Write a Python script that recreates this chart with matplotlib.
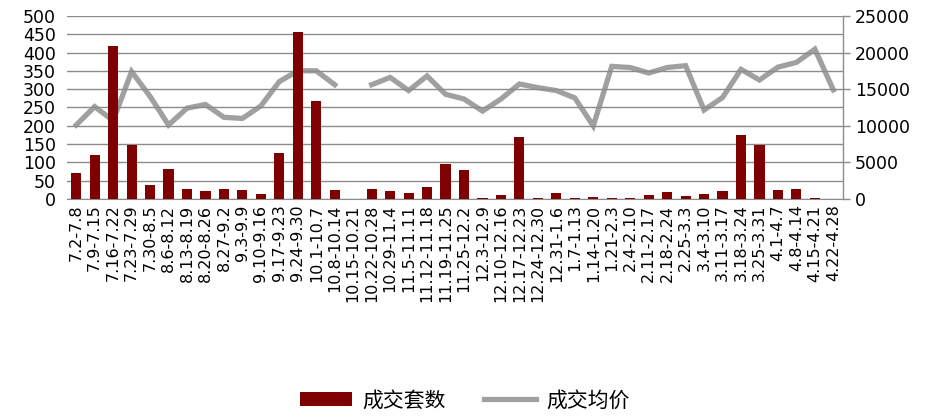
import matplotlib
matplotlib.use("Agg")
import matplotlib.pyplot as plt
import numpy as np

plt.rcParams['font.family'] = ['DejaVu Sans', 'Noto Sans CJK SC']

weeks = ["7.2-7.8", "7.9-7.15", "7.16-7.22", "7.23-7.29", "7.30-8.5", "8.6-8.12",
         "8.13-8.19", "8.20-8.26", "8.27-9.2", "9.3-9.9", "9.10-9.16", "9.17-9.23",
         "9.24-9.30", "10.1-10.7", "10.8-10.14", "10.15-10.21", "10.22-10.28",
         "10.29-11.4", "11.5-11.11", "11.12-11.18", "11.19-11.25", "11.25-12.2",
         "12.3-12.9", "12.10-12.16", "12.17-12.23", "12.24-12.30", "12.31-1.6",
         "1.7-1.13", "1.14-1.20", "1.21-2.3", "2.4-2.10", "2.11-2.17", "2.18-2.24",
         "2.25-3.3", "3.4-3.10", "3.11-3.17", "3.18-3.24", "3.25-3.31", "4.1-4.7",
         "4.8-4.14", "4.15-4.21", "4.22-4.28"]

units_sold = [70, 121, 417, 148, 37, 82, 27, 23, 27, 25, 14, 126,
              455, 267, 25, 0, 28, 23, 15, 32, 95, 78,
              4, 11, 169, 3, 15, 4, 6, 3, 3, 11, 18,
              9, 14, 21, 174, 148, 25, 28, 4, 0]

avg_price = [10100, 12600, 10700, 17400, 14000, 10100, 12400, 12900, 11150, 11000, 12700, 16030,
             17500, 17500, 15600, np.nan, 15600, 16600, 14800, 16800, 14300, 13650,
             12000, 13650, 15700, 15200, 14800, 13800, 9970, 18100, 17950, 17200, 17950,
             18200, 12150, 13850, 17700, 16250, 18000, 18650, 20450, 14900]

bar_color = "#7F0000"
line_color = "#A0A0A0"
grid_color = "#8C8C8C"

fig = plt.figure(figsize=(9.3, 4.18), dpi=100)
ax = fig.add_axes([0.072, 0.524, 0.834, 0.438])
ax2 = ax.twinx()

x = np.arange(len(weeks))
ax.bar(x, units_sold, width=0.55, color=bar_color, zorder=3, label="成交套数")
ax2.plot(x, avg_price, color=line_color, lw=3.8, zorder=4, label="成交均价",
         solid_joinstyle='miter')

ax.set_xlim(-0.5, len(weeks) - 0.5)
ax.set_ylim(0, 500)
ax.set_yticks(np.arange(0, 501, 50))
ax2.set_ylim(0, 25000)
ax2.set_yticks(np.arange(0, 25001, 5000))

ax.set_zorder(ax2.get_zorder() + 1)
ax.patch.set_visible(False)

ax.yaxis.grid(True, color=grid_color, lw=1.0, zorder=0)
ax.set_axisbelow(True)

for s in ["top", "left", "right"]:
    ax.spines[s].set_visible(False)
ax.spines["bottom"].set_color(grid_color)
for s in ["top", "left", "bottom"]:
    ax2.spines[s].set_visible(False)
ax2.spines["right"].set_color(grid_color)
ax2.spines["right"].set_linewidth(1.0)

ax.tick_params(axis='y', length=0, labelsize=12.5, pad=8, colors="#000000")
ax.tick_params(axis='x', length=0, labelsize=11.5, pad=4)
ax2.tick_params(axis='y', length=5, width=1.0, color=grid_color, labelsize=12.5, pad=4)

ax.set_xticks(x)
ax.set_xticklabels(weeks, rotation=90, fontfamily=['DejaVu Sans'])

handles = [ax.containers[0], ax2.get_lines()[0]]
labels = ["成交套数", "成交均价"]
fig.legend(handles, labels, loc="center", bbox_to_anchor=(0.5, 0.042), ncol=2,
           frameon=False, prop={'family': ['Noto Sans CJK SC'], 'size': 15},
           handlelength=2.5, handleheight=0.6, columnspacing=1.8, handletextpad=0.5)

fig.savefig("out.png", dpi=100)
